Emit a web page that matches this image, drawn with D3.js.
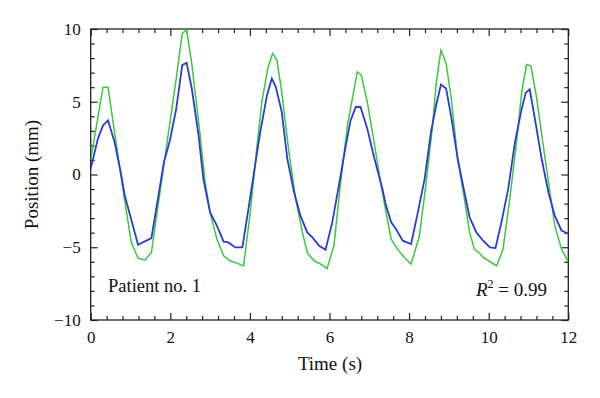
<!DOCTYPE html>
<html><head><meta charset="utf-8">
<script src="https://cdn.jsdelivr.net/npm/d3@7"></script>
<style>body{margin:0;background:#fff}svg{display:block}</style>
</head><body><svg id="c" width="600" height="398"></svg>
<script>
// Measured (green) trace
const greenT = [0,0.31,0.435,0.60,0.77,1.02,1.19,1.36,1.525,1.86,2.15,2.30,2.41,2.54,2.75,2.875,3.0,3.17,3.34,3.50,3.67,3.84,4.01,4.18,4.30,4.45,4.57,4.68,4.80,4.98,5.15,5.32,5.44,5.61,5.78,5.94,6.11,6.28,6.45,6.59,6.70,6.80,6.95,7.12,7.30,7.42,7.55,7.71,7.88,8.05,8.26,8.43,8.59,8.68,8.80,8.93,9.06,9.22,9.39,9.52,9.64,9.77,9.86,10.03,10.20,10.36,10.53,10.70,10.83,10.95,11.06,11.20,11.37,11.54,11.66,11.83,12.0];
const greenV = [1.0,6.0,6.0,2.9,-0.3,-4.67,-5.75,-5.89,-5.36,1.08,6.6,9.7,9.95,7.6,2.7,-0.5,-2.6,-4.44,-5.59,-5.93,-6.09,-6.28,-2.6,2.0,4.99,7.29,8.32,7.86,5.68,1.54,-1.68,-3.98,-5.36,-5.93,-6.16,-6.46,-4.9,-0.53,3.38,5.45,7.06,6.83,4.99,2.23,-0.8,-2.6,-4.44,-5.13,-5.70,-6.16,-4.21,-0.53,3.38,6.25,8.55,7.63,5.22,1.08,-1.68,-3.98,-5.13,-5.4,-5.70,-5.98,-6.28,-5.13,-1.68,2.23,5.68,7.56,7.47,5.33,2.0,-1.22,-3.52,-5.13,-6.0];
// Model (blue) trace
const blueT = [0,0.18,0.31,0.435,0.60,0.77,0.855,1.19,1.525,1.84,1.99,2.15,2.30,2.41,2.54,2.71,2.83,3.0,3.17,3.34,3.46,3.63,3.81,3.97,4.13,4.26,4.43,4.55,4.65,4.80,4.94,5.11,5.27,5.44,5.57,5.74,5.90,6.07,6.28,6.41,6.53,6.66,6.78,6.95,7.12,7.33,7.42,7.55,7.67,7.84,8.05,8.22,8.39,8.55,8.68,8.80,8.93,9.06,9.22,9.39,9.52,9.69,9.86,10.03,10.17,10.32,10.49,10.66,10.83,10.93,11.03,11.16,11.33,11.50,11.66,11.83,12.0];
const blueV = [0.4,2.46,3.38,3.72,2.23,-0.07,-1.45,-4.83,-4.37,0.85,2.34,4.53,7.52,7.68,5.91,2.69,-0.3,-2.6,-3.52,-4.62,-4.67,-5.01,-5.01,-2.25,0.62,2.92,5.45,6.6,6.02,4.3,1.08,-1.22,-2.83,-3.98,-4.32,-4.9,-5.17,-3.29,-0.07,2.0,3.72,4.64,4.64,3.15,1.19,-0.99,-2.14,-3.29,-3.75,-4.55,-4.78,-2.6,-0.3,2.92,4.76,6.18,5.91,3.95,1.08,-1.22,-2.94,-3.98,-4.55,-5.01,-5.06,-3.29,-0.99,2.23,4.53,5.61,5.86,3.84,1.08,-1.22,-2.83,-3.86,-4.07];
const xTicks = [0,2,4,6,8,10,12];
const yTicks = [-10,-5,0,5,10];
const xLabel = "Time (s)";
const yLabel = "Position (mm)";
const patientText = "Patient no. 1";
const r2Value = "0.99";

const svg = d3.select("#c");
const L = 90.7, R = 568.3, T = 29, B = 320;
const x = d3.scaleLinear().domain([0,12]).range([L,R]);
const y = d3.scaleLinear().domain([-10,10]).range([B,T]);
const font = "'Liberation Serif','Times New Roman',serif";

function ticksFor(step, lo, hi){ const a=[]; for(let v=lo; v<=hi+1e-9; v+=step){ a.push(+v.toFixed(4)); } return a; }
const xMinor = ticksFor(0.4,0,12).filter(v=>!xTicks.some(t=>Math.abs(t-v)<1e-6));
const yMinor = ticksFor(1,-10,10).filter(v=>!yTicks.some(t=>Math.abs(t-v)<1e-6));

const g = svg.append("g");
function axis(gen, tr){ const a = g.append("g").attr("transform",tr).call(gen); a.select(".domain").remove(); a.selectAll("line").attr("stroke","#222").attr("stroke-width",1.2); return a; }
const bot = axis(d3.axisBottom(x).tickValues(xTicks).tickSize(-7).tickPadding(11).tickFormat(d3.format("d")), `translate(0,${B})`);
axis(d3.axisBottom(x).tickValues(xMinor).tickSize(-4).tickFormat(""), `translate(0,${B})`);
axis(d3.axisTop(x).tickValues(xTicks).tickSize(-7).tickFormat(""), `translate(0,${T})`);
axis(d3.axisTop(x).tickValues(xMinor).tickSize(-4).tickFormat(""), `translate(0,${T})`);
const lft = axis(d3.axisLeft(y).tickValues(yTicks).tickSize(-7).tickPadding(10).tickFormat(d=>d<0?"\u2212"+Math.abs(d):String(d)), `translate(${L},0)`);
axis(d3.axisLeft(y).tickValues(yMinor).tickSize(-4).tickFormat(""), `translate(${L},0)`);
axis(d3.axisRight(y).tickValues(yTicks).tickSize(-7).tickFormat(""), `translate(${R},0)`);
axis(d3.axisRight(y).tickValues(yMinor).tickSize(-4).tickFormat(""), `translate(${R},0)`);
[bot,lft].forEach(a=>a.selectAll("text").attr("font-family",font).attr("font-size",17).attr("fill","#111"));
bot.selectAll("text").attr("dy","0.71em").attr("y",11);

g.append("rect").attr("x",L).attr("y",T).attr("width",R-L).attr("height",B-T).attr("fill","none").attr("stroke","#222").attr("stroke-width",1.3);

const line = d3.line().x(d=>x(d[0])).y(d=>y(d[1]));
svg.append("clipPath").attr("id","cp").append("rect").attr("x",L).attr("y",T-3).attr("width",R-L).attr("height",B-T+6);
svg.append("path").datum(greenT.map((t,i)=>[t,greenV[i]])).attr("d",line).attr("fill","none").attr("stroke","#3cc83c").attr("stroke-width",1.5).attr("clip-path","url(#cp)");
svg.append("path").datum(blueT.map((t,i)=>[t,blueV[i]])).attr("d",line).attr("fill","none").attr("stroke","#2b3bd4").attr("stroke-width",1.8).attr("clip-path","url(#cp)");

svg.append("text").attr("x",330).attr("y",370).attr("text-anchor","middle").attr("font-family",font).attr("font-size",19).attr("fill","#111").text(xLabel);
svg.append("text").attr("transform",`translate(38,${(T+B)/2}) rotate(-90)`).attr("text-anchor","middle").attr("font-family",font).attr("font-size",19).attr("fill","#111").text(yLabel);
svg.append("text").attr("x",108).attr("y",292).attr("font-family",font).attr("font-size",18.5).attr("fill","#111").text(patientText);
const r2 = svg.append("text").attr("x",547).attr("y",296).attr("text-anchor","end").attr("font-family",font).attr("font-size",19).attr("fill","#111");
r2.append("tspan").attr("font-style","italic").text("R");
r2.append("tspan").attr("font-size",12).attr("dy",-8).text("2");
r2.append("tspan").attr("dy",8).text(" = " + r2Value);
</script></body></html>
